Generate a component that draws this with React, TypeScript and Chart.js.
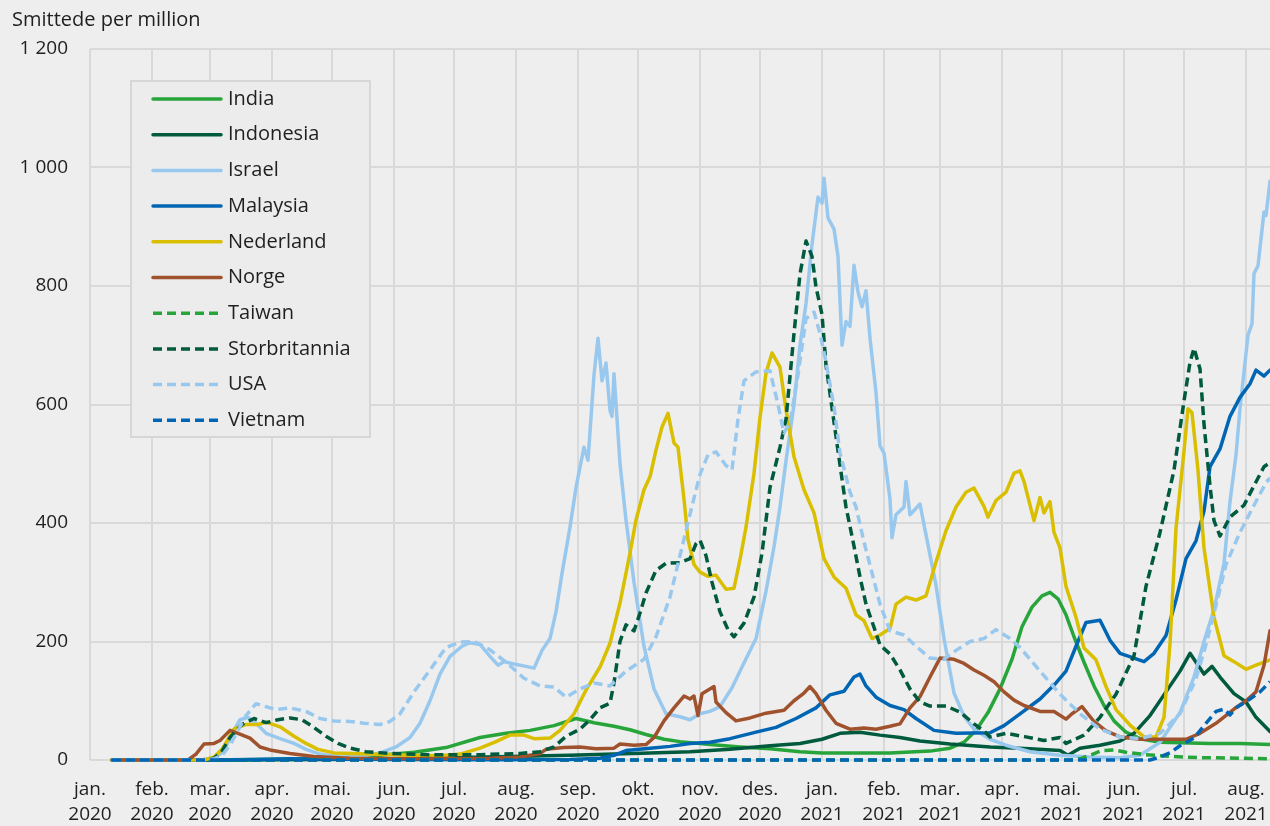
import React, { useEffect, useRef } from 'react';
import { Chart, registerables } from 'chart.js';

Chart.register(...registerables);

const FONT = '"Open Sans", "Noto Sans", sans-serif';
const TEXT = '#1f1f1f';
const BG = '#eeeeee';
const GRID = '#d9d9d9';

// day index from 1 Jan 2020
const monthDays = [0, 31, 60, 91, 121, 152, 182, 213, 244, 274, 305, 335, 366, 397, 425, 456, 486, 517, 547, 578];
const monthNames = ['jan.', 'feb.', 'mar.', 'apr.', 'mai.', 'jun.', 'jul.', 'aug.', 'sep.', 'okt.', 'nov.', 'des.', 'jan.', 'feb.', 'mar.', 'apr.', 'mai.', 'jun.', 'jul.', 'aug.'];
const monthYears = ['2020', '2020', '2020', '2020', '2020', '2020', '2020', '2020', '2020', '2020', '2020', '2020', '2021', '2021', '2021', '2021', '2021', '2021', '2021', '2021'];
const yTicks = [0, 200, 400, 600, 800, 1000, 1200];

type P = [number, number];

const india: P[] = [[11,0],[60,0],[90,1],[110,2],[130,4],[145,8],[162,13],[178,21],[195,38],[208,45],[220,50],[232,58],[243,70],[252,63],[262,57],[270,51],[278,43],[287,35],[295,31],[310,26],[325,22],[340,19],[355,14],[366,12],[380,12],[400,12],[420,15],[430,20],[437,30],[443,50],[449,80],[455,120],[461,170],[466,225],[471,258],[476,277],[480,283],[484,272],[488,245],[492,208],[497,165],[502,125],[507,92],[512,66],[518,47],[525,36],[535,30],[560,28],[575,28],[590,26]];

const indonesia: P[] = [[11,0],[60,0],[90,0.5],[120,1],[150,2],[180,4],[210,6],[240,8],[262,10],[280,12],[300,14],[320,18],[340,24],[355,28],[366,35],[375,45],[385,47],[395,42],[405,38],[415,32],[430,27],[450,22],[470,19],[485,16],[489,8],[495,20],[505,25],[515,32],[522,45],[530,75],[538,115],[545,150],[550,180],[553,165],[557,145],[561,158],[565,140],[572,112],[578,98],[583,72],[590,48]];

const israel: P[] = [[11,0],[55,0],[62,3],[67,15],[71,45],[75,68],[79,72],[83,62],[88,45],[95,36],[102,28],[108,18],[115,10],[125,5],[135,6],[145,12],[153,22],[160,38],[165,62],[170,100],[175,145],[180,175],[186,192],[190,198],[195,195],[200,175],[204,160],[207,166],[212,162],[218,158],[222,155],[226,185],[230,205],[233,250],[236,315],[240,393],[243,460],[247,528],[249,506],[252,650],[254,712],[256,640],[258,670],[260,590],[261,580],[262,652],[265,500],[268,405],[272,300],[277,192],[282,120],[288,78],[295,73],[300,68],[305,78],[310,82],[315,90],[321,122],[326,157],[333,205],[338,285],[342,360],[345,427],[348,505],[352,600],[355,700],[358,770],[361,870],[364,950],[366,940],[367,982],[369,915],[372,896],[374,850],[376,700],[378,740],[380,732],[382,835],[384,790],[386,765],[388,792],[390,712],[393,620],[395,530],[397,518],[400,440],[401,375],[403,414],[407,427],[408,470],[410,414],[415,432],[418,380],[423,295],[427,205],[432,113],[437,74],[442,52],[450,35],[458,25],[470,14],[485,8],[500,5],[515,4],[525,8],[535,30],[545,80],[552,140],[557,200],[562,254],[567,332],[570,436],[573,515],[575,593],[579,717],[581,736],[582,821],[584,834],[587,925],[588,919],[590,977]];

const malaysia: P[] = [[11,0],[60,0],[80,1],[100,2],[150,1],[200,0.5],[240,1],[255,3],[262,8],[268,16],[280,20],[290,23],[300,28],[310,30],[320,36],[333,47],[343,55],[353,70],[363,88],[370,110],[377,116],[382,140],[385,145],[388,125],[393,106],[400,92],[407,85],[413,70],[422,50],[433,45],[450,46],[457,58],[465,78],[475,103],[483,130],[488,150],[493,192],[498,232],[505,236],[510,202],[515,180],[522,172],[527,166],[532,180],[538,210],[543,270],[548,340],[553,370],[557,420],[560,495],[565,525],[570,580],[575,612],[580,635],[583,658],[587,648],[590,658]];

const nederland: P[] = [[11,0],[57,0],[62,5],[66,18],[72,52],[78,60],[84,60],[88,64],[95,56],[102,40],[108,28],[114,18],[122,12],[140,10],[160,8],[175,7],[185,10],[195,20],[203,31],[210,42],[217,42],[222,36],[230,37],[235,50],[242,78],[248,118],[255,157],[260,197],[265,265],[270,349],[273,405],[277,456],[280,478],[283,523],[286,562],[289,585],[292,535],[294,528],[297,440],[299,372],[302,330],[305,317],[309,310],[313,312],[318,288],[322,290],[325,338],[328,393],[332,484],[335,578],[338,653],[341,687],[345,663],[348,591],[352,512],[357,456],[362,417],[367,340],[372,309],[378,290],[383,245],[387,235],[391,205],[395,211],[400,222],[403,263],[408,275],[413,270],[418,277],[423,334],[428,387],[433,427],[438,452],[442,459],[447,428],[449,410],[453,438],[458,452],[462,484],[465,488],[467,470],[472,404],[475,443],[477,417],[480,436],[482,384],[485,358],[488,293],[493,241],[497,189],[503,169],[508,124],[513,85],[520,59],[527,39],[533,39],[537,72],[540,196],[543,391],[547,521],[549,593],[551,586],[554,489],[557,358],[562,241],[567,176],[572,166],[578,153],[583,160],[590,169]];

const norge: P[] = [[11,0],[49,0],[53,10],[57,27],[62,28],[65,33],[70,50],[74,45],[80,37],[85,22],[90,17],[100,11],[112,6],[130,3],[160,2],[200,3],[215,5],[225,11],[228,18],[237,21],[245,22],[253,19],[262,20],[265,27],[272,25],[278,26],[282,38],[287,66],[292,88],[297,108],[300,103],[302,108],[304,75],[306,112],[312,124],[313,98],[318,80],[323,66],[330,71],[338,79],[347,84],[352,100],[357,113],[360,124],[363,112],[368,84],[373,62],[380,52],[387,54],[393,52],[400,57],[405,61],[410,88],[415,107],[420,140],[425,172],[432,170],[437,163],[442,152],[447,143],[452,132],[457,115],[462,101],[467,92],[475,82],[482,82],[488,69],[491,78],[496,90],[502,65],[508,49],[515,39],[525,35],[548,35],[555,45],[563,62],[572,86],[578,100],[583,115],[587,160],[590,218]];

const taiwan: P[] = [[11,0],[490,0],[495,2],[500,8],[506,16],[512,17],[518,13],[528,9],[540,6],[555,4],[575,3],[590,2]];

const storbritannia: P[] = [[11,0],[58,0],[62,3],[66,15],[70,38],[76,60],[82,70],[88,63],[94,68],[100,71],[106,68],[112,55],[118,40],[124,28],[130,20],[138,14],[150,11],[170,9],[195,9],[215,11],[225,14],[232,22],[238,40],[245,52],[250,68],[255,88],[260,96],[262,130],[265,200],[268,228],[272,218],[275,248],[278,282],[283,320],[288,332],[295,333],[300,340],[303,365],[305,371],[308,345],[311,300],[315,250],[319,220],[322,208],[327,231],[332,275],[336,349],[340,460],[345,528],[348,575],[352,720],[355,820],[358,876],[361,850],[363,798],[366,752],[368,667],[372,570],[375,498],[378,427],[382,361],[385,309],[388,263],[392,224],[395,194],[400,179],[405,152],[410,120],[415,98],[420,91],[428,91],[435,81],[442,61],[447,49],[450,39],[458,45],[468,39],[477,33],[485,38],[488,28],[497,42],[505,72],[513,111],[522,176],[528,293],[535,384],[542,489],[547,606],[550,671],[552,695],[555,660],[557,567],[560,463],[562,404],[565,378],[570,410],[577,430],[582,463],[587,495],[590,502]];

const usa: P[] = [[11,0],[55,0],[62,2],[66,8],[70,25],[74,50],[78,75],[83,95],[88,90],[93,85],[100,88],[108,82],[115,70],[122,66],[130,65],[137,62],[145,60],[150,65],[155,78],[162,115],[170,152],[178,190],[185,199],[192,200],[200,186],[208,165],[217,138],[225,125],[232,123],[238,106],[245,120],[252,130],[260,125],[268,150],[277,170],[283,208],[290,275],[295,345],[300,415],[305,482],[309,515],[313,520],[318,497],[321,490],[324,575],[327,640],[333,655],[340,657],[344,600],[347,552],[350,570],[354,650],[358,745],[362,756],[365,720],[368,672],[372,596],[375,518],[380,452],[383,427],[387,368],[391,316],[395,263],[400,218],[407,211],[413,192],[420,172],[427,170],[433,185],[440,200],[447,205],[453,220],[460,205],[465,190],[475,150],[485,111],[495,78],[505,52],[515,39],[525,36],[535,45],[545,78],[553,137],[558,195],[563,261],[568,330],[575,384],[582,430],[588,468],[590,476]];

const vietnam: P[] = [[11,0],[530,0],[535,5],[540,12],[545,24],[552,37],[558,62],[563,82],[567,86],[570,76],[573,88],[578,98],[585,115],[590,132]];

const GREEN = '#27a53a';
const DKGREEN = '#005a3e';
const LTBLUE = '#99c8ee';
const BLUE = '#0066b3';
const YELLOW = '#d9bf00';
const BROWN = '#a0522d';

const seriesDefs = [
  { label: 'India', data: india, color: GREEN, dashed: false },
  { label: 'Indonesia', data: indonesia, color: DKGREEN, dashed: false },
  { label: 'Israel', data: israel, color: LTBLUE, dashed: false },
  { label: 'Malaysia', data: malaysia, color: BLUE, dashed: false },
  { label: 'Nederland', data: nederland, color: YELLOW, dashed: false },
  { label: 'Norge', data: norge, color: BROWN, dashed: false },
  { label: 'Taiwan', data: taiwan, color: GREEN, dashed: true },
  { label: 'Storbritannia', data: storbritannia, color: DKGREEN, dashed: true },
  { label: 'USA', data: usa, color: LTBLUE, dashed: true },
  { label: 'Vietnam', data: vietnam, color: BLUE, dashed: true },
];

const DASH = [9, 5];

const fmt = (v: number) => String(v).replace(/\B(?=(\d{3})+(?!\d))/g, ' ');

const overlayPlugin = {
  id: 'overlay',
  beforeDraw(chart: any) {
    const ctx = chart.ctx;
    ctx.save();
    ctx.fillStyle = BG;
    ctx.fillRect(0, 0, chart.width, chart.height);
    ctx.restore();
  },
  afterDatasetsDraw(chart: any) {
    const ctx = chart.ctx;
    ctx.save();
    // legend box
    const bx = 131, by = 81, bw = 239, bh = 356;
    ctx.fillStyle = '#ececec';
    ctx.fillRect(bx, by, bw, bh);
    ctx.strokeStyle = '#d6d6d6';
    ctx.lineWidth = 2;
    ctx.strokeRect(bx, by, bw, bh);
    ctx.font = `20px ${FONT}`;
    ctx.textBaseline = 'middle';
    ctx.textAlign = 'left';
    seriesDefs.forEach((s, i) => {
      const y = 99 + i * 35.7;
      ctx.beginPath();
      ctx.strokeStyle = s.color;
      ctx.lineWidth = 3.5;
      ctx.lineCap = s.dashed ? 'butt' : 'round';
      ctx.setLineDash(s.dashed ? DASH : []);
      ctx.moveTo(153, y);
      ctx.lineTo(221, y);
      ctx.stroke();
      ctx.setLineDash([]);
      ctx.fillStyle = TEXT;
      ctx.fillText(s.label, 228, y);
    });
    ctx.restore();
  },
  afterDraw(chart: any) {
    const ctx = chart.ctx;
    ctx.save();
    ctx.font = `20px ${FONT}`;
    ctx.fillStyle = TEXT;
    ctx.textBaseline = 'middle';
    ctx.textAlign = 'left';
    ctx.fillText('Smittede per million', 12, 20);
    ctx.restore();
  },
};

export default function App() {
  const ref = useRef<HTMLCanvasElement>(null);
  useEffect(() => {
    document.body.style.margin = '0';
    const n = seriesDefs.length;
    const chart = new Chart(ref.current as HTMLCanvasElement, {
      type: 'line',
      data: {
        datasets: seriesDefs.map((s, i) => ({
          label: s.label,
          data: s.data.map(([x, y]) => ({ x, y })),
          borderColor: s.color,
          backgroundColor: s.color,
          borderWidth: 3.5,
          borderDash: s.dashed ? DASH : [],
          borderCapStyle: s.dashed ? 'butt' : 'round',
          borderJoinStyle: 'round',
          pointRadius: 0,
          pointHoverRadius: 0,
          tension: 0,
          fill: false,
          clip: { left: 5, top: 5, right: 0, bottom: 5 },
          order: n - i,
        })) as any,
      },
      options: {
        responsive: false,
        animation: false,
        devicePixelRatio: 1,
        layout: { padding: { top: 49, left: 0, right: 0, bottom: 0 } },
        plugins: {
          legend: { display: false },
          tooltip: { enabled: false },
          title: { display: false },
        },
        scales: {
          x: {
            type: 'linear',
            min: 0,
            max: 590,
            afterBuildTicks: (s: any) => {
              s.ticks = monthDays.map((v) => ({ value: v }));
            },
            afterFit: (s: any) => {
              s.height = 66;
              s.paddingLeft = 0;
              s.paddingRight = 0;
            },
            ticks: {
              autoSkip: false,
              maxRotation: 0,
              minRotation: 0,
              padding: 17,
              color: TEXT,
              font: { family: FONT, size: 19, lineHeight: 1.32 },
              callback: (_v: any, i: number) => [monthNames[i], monthYears[i]],
            },
            grid: { color: GRID, lineWidth: 2, drawTicks: false },
            border: { display: false },
          },
          y: {
            min: 0,
            max: 1200,
            afterBuildTicks: (s: any) => {
              s.ticks = yTicks.map((v) => ({ value: v }));
            },
            afterFit: (s: any) => {
              s.width = 90;
              s.paddingTop = 0;
              s.paddingBottom = 0;
            },
            ticks: {
              padding: 22,
              color: TEXT,
              font: { family: FONT, size: 19 },
              callback: (v: any) => fmt(Number(v)),
            },
            grid: { color: GRID, lineWidth: 2, drawTicks: false },
            border: { display: false },
          },
        },
      } as any,
      plugins: [overlayPlugin],
    });
    return () => chart.destroy();
  }, []);
  return (
    <div style={{ position: 'absolute', left: 0, top: 0, width: 1270, height: 826, background: BG }}>
      <canvas ref={ref} width={1270} height={826} style={{ display: 'block', width: 1270, height: 826 }} />
    </div>
  );
}
